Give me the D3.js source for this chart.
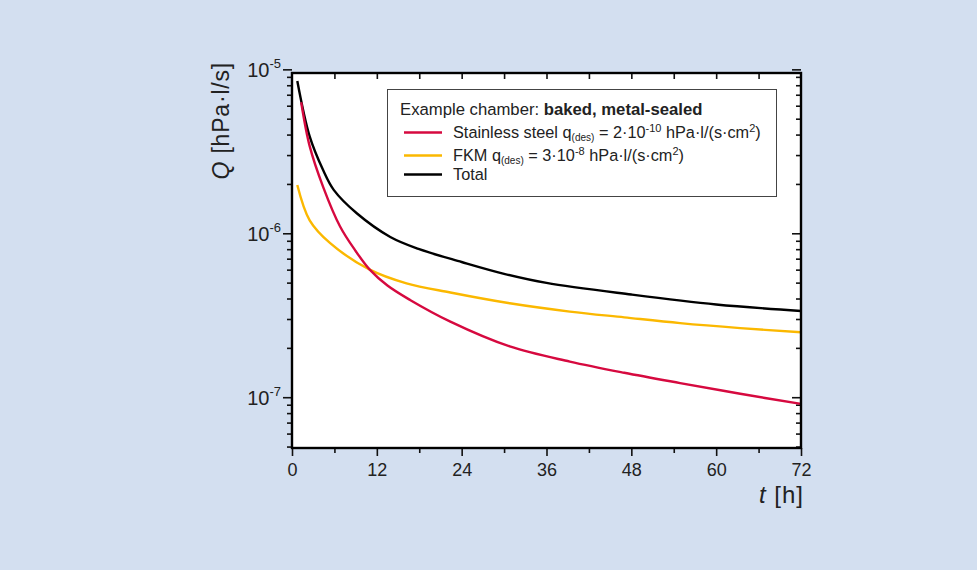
<!DOCTYPE html>
<html lang="en">
  <head>
    <meta charset="utf-8">
    <title>Outgassing rate over time</title>
    <style type="text/css">
      html, body {
        margin: 0;
        padding: 0;
        background: #d3dff0;
      }
      svg {
        display: block;
        font-family: "Liberation Sans", Arial, sans-serif;
      }
    </style>
  </head>
  <body>
    <script type="text/javascript" src="https://d3js.org/d3.v7.min.js"></script>
    <script type="text/javascript">
    // ===================================
    // DATA
    // ===================================
      var steelHours = [1.3, 2.5, 4.4, 6.8, 9, 11, 13.5, 16.7, 22.4, 30.8, 39.3, 47, 54.9, 63.4, 72];
      var steelQ = [6.3e-6, 3.4e-6, 1.92e-6, 1.1e-6, 7.8e-7, 6.0e-7, 4.8e-7, 3.92e-7, 2.89e-7, 2.04e-7, 1.65e-7, 1.41e-7, 1.22e-7, 1.05e-7, 9.1e-8];

      var fkmHours = [0.75, 2.5, 5.4, 11, 16.2, 22.4, 30.8, 39.3, 47, 54.9, 63.4, 72];
      var fkmQ = [1.97e-6, 1.2e-6, 8.7e-7, 6.0e-7, 4.95e-7, 4.35e-7, 3.74e-7, 3.33e-7, 3.07e-7, 2.83e-7, 2.64e-7, 2.49e-7];

      var totalHours = [0.75, 2.5, 4.4, 5.9, 9.2, 13.9, 18, 24, 30, 36, 48, 60, 72];
      var totalQ = [8.5e-6, 3.9e-6, 2.43e-6, 1.84e-6, 1.32e-6, 9.5e-7, 8.0e-7, 6.68e-7, 5.66e-7, 4.98e-7, 4.23e-7, 3.68e-7, 3.36e-7];

      var xMajorTicks = [0, 12, 24, 36, 48, 60, 72];
      var xMinorTicks = [6, 18, 30, 42, 54, 66];
      var yDecades = [1e-5, 1e-6, 1e-7];
      var yDecadeExp = ["-5", "-6", "-7"];

      var w = 977;
      var h = 570;
      var plotLeft = 292, plotRight = 801, plotTop = 73, plotBottom = 448;

      var svg = d3.select("body")
        .append("svg")
        .attr("width", w)
        .attr("height", h);

      svg.append("rect")
        .attr("width", w)
        .attr("height", h)
        .attr("fill", "#d3dff0");

      var x = d3.scaleLinear().domain([0, 72]).range([plotLeft, plotRight]);
      var y = d3.scaleLog().domain([4.9e-8, 9.5e-6]).range([plotBottom, plotTop]);

      // plot background
      svg.append("rect")
        .attr("x", plotLeft)
        .attr("y", plotTop)
        .attr("width", plotRight - plotLeft)
        .attr("height", plotBottom - plotTop)
        .attr("fill", "white");

      // minor log ticks (2..9 of each decade inside the domain)
      var yMinor = [];
      [1e-8, 1e-7, 1e-6].forEach(function(d) {
        for (var k = 2; k <= 9; k++) {
          var v = d * k;
          if (v >= 4.9e-8 && v <= 9.5e-6) yMinor.push(v);
        }
      });

    // ===================================
    // AXES
    // ===================================
      function styleAxis(g) {
        g.select(".domain").remove();
        g.selectAll(".tick line").attr("stroke", "#111").attr("stroke-width", 1.6);
      }

      // bottom
      svg.append("g")
        .attr("transform", "translate(0," + plotBottom + ")")
        .call(d3.axisBottom(x).tickValues(xMajorTicks).tickSize(8).tickFormat(d3.format("d")))
        .call(styleAxis)
        .call(function(g) {
          g.selectAll(".tick text")
            .attr("y", 28)
            .attr("dy", 0)
            .attr("fill", "#222")
            .style("font-size", "18px")
            .style("font-family", "'Liberation Sans', Arial, sans-serif");
        });
      svg.append("g")
        .attr("transform", "translate(0," + plotBottom + ")")
        .call(d3.axisBottom(x).tickValues(xMinorTicks).tickSize(5).tickFormat(""))
        .call(styleAxis);

      // top (inward)
      svg.append("g")
        .attr("transform", "translate(0," + plotTop + ")")
        .call(d3.axisBottom(x).tickValues(xMinorTicks.concat(xMajorTicks.slice(1, -1))).tickSize(6).tickFormat(""))
        .call(styleAxis);

      // left
      var leftAxis = svg.append("g")
        .attr("transform", "translate(" + plotLeft + ",0)")
        .call(d3.axisLeft(y).tickValues(yDecades).tickSize(9).tickFormat(""))
        .call(styleAxis);
      svg.append("g")
        .attr("transform", "translate(" + plotLeft + ",0)")
        .call(d3.axisLeft(y).tickValues(yMinor).tickSize(5).tickFormat(""))
        .call(styleAxis);

      leftAxis.selectAll(".tick").each(function(d, i) {
        var t = d3.select(this).select("text")
          .attr("x", -11)
          .attr("dy", 0)
          .attr("y", 7)
          .attr("fill", "#222")
          .attr("text-anchor", "end")
          .style("font-family", "'Liberation Sans', Arial, sans-serif");
        t.append("tspan").style("font-size", "20px").text("10");
        t.append("tspan").style("font-size", "13px").attr("dy", -9).text(yDecadeExp[i]);
      });

      // right (inward)
      svg.append("g")
        .attr("transform", "translate(" + plotRight + ",0)")
        .call(d3.axisRight(y).tickValues(yDecades).tickSize(-9).tickFormat(""))
        .call(styleAxis);
      svg.append("g")
        .attr("transform", "translate(" + plotRight + ",0)")
        .call(d3.axisRight(y).tickValues(yMinor).tickSize(-5).tickFormat(""))
        .call(styleAxis);

      // axis titles
      var yTitle = svg.append("text")
        .attr("transform", "translate(229,62) rotate(-90)")
        .attr("text-anchor", "end")
        .attr("fill", "#222")
        .style("font-size", "23px")
        .style("letter-spacing", "0.8px");
      yTitle.append("tspan").style("font-style", "italic").text("Q");
      yTitle.append("tspan").text(" [hPa·l/s]");

      var xTitle = svg.append("text")
        .attr("x", 804)
        .attr("y", 503)
        .attr("text-anchor", "end")
        .attr("fill", "#222")
        .style("font-size", "24px")
        .style("letter-spacing", "1px");
      xTitle.append("tspan").style("font-style", "italic").text("t");
      xTitle.append("tspan").text(" [h]");

    // ===================================
    // CURVES
    // ===================================
      var line = d3.line()
        .x(function(d) { return x(d[0]); })
        .y(function(d) { return y(d[1]); })
        .curve(d3.curveCatmullRom.alpha(0.5));

      var series = [
        { hours: totalHours, q: totalQ, color: "#000000" },
        { hours: fkmHours, q: fkmQ, color: "#fbb800" },
        { hours: steelHours, q: steelQ, color: "#d6093f" }
      ];

      svg.selectAll("path.curve")
        .data(series)
        .enter()
        .append("path")
        .attr("class", "curve")
        .attr("fill", "none")
        .attr("stroke", function(d) { return d.color; })
        .attr("stroke-width", 2.4)
        .attr("d", function(d) {
          return line(d.hours.map(function(t, i) { return [t, d.q[i]]; }));
        });

      // frame
      svg.append("rect")
        .attr("x", plotLeft)
        .attr("y", plotTop)
        .attr("width", plotRight - plotLeft)
        .attr("height", plotBottom - plotTop)
        .attr("fill", "none")
        .attr("stroke", "#000")
        .attr("stroke-width", 2.4);

    // ===================================
    // LEGEND
    // ===================================
      var legend = svg.append("g");
      legend.append("rect")
        .attr("x", 387.5)
        .attr("y", 89.5)
        .attr("width", 389)
        .attr("height", 107)
        .attr("fill", "white")
        .attr("stroke", "#444")
        .attr("stroke-width", 1);

      function rich(sel, parts) {
        var shift = 0;
        parts.forEach(function(p) {
          var ts = sel.append("tspan").text(p[0]);
          var target = 0;
          if (p[1] === "b") ts.style("font-weight", "bold");
          if (p[1] === "sup") { target = -6; ts.style("font-size", "11px"); }
          if (p[1] === "sub") { target = 3; ts.style("font-size", "10px"); }
          if (target !== shift) ts.attr("dy", target - shift);
          shift = target;
        });
      }

      var legendText = svg.append("g")
        .attr("fill", "#222")
        .style("font-size", "16.3px");

      rich(legendText.append("text").attr("x", 400).attr("y", 115).style("font-size", "16.7px"), [
        ["Example chamber: ", "n"], ["baked, metal-sealed", "b"]
      ]);

      var entries = [
        { color: "#d6093f", y: 132.5, parts: [
          ["Stainless steel q", "n"], ["(des)", "sub"], [" = 2·10", "n"], ["-10", "sup"],
          [" hPa·l/(s·cm", "n"], ["2", "sup"], [")", "n"]] },
        { color: "#fbb800", y: 155.5, parts: [
          ["FKM q", "n"], ["(des)", "sub"], [" = 3·10", "n"], ["-8", "sup"],
          [" hPa·l/(s·cm", "n"], ["2", "sup"], [")", "n"]] },
        { color: "#000000", y: 174.5, parts: [["Total", "n"]] }
      ];

      entries.forEach(function(e) {
        legend.append("line")
          .attr("x1", 404)
          .attr("x2", 442)
          .attr("y1", e.y)
          .attr("y2", e.y)
          .attr("stroke", e.color)
          .attr("stroke-width", 2.4);
        rich(legendText.append("text").attr("x", 453).attr("y", e.y + 5.5), e.parts);
      });
    </script>
  </body>
</html>
